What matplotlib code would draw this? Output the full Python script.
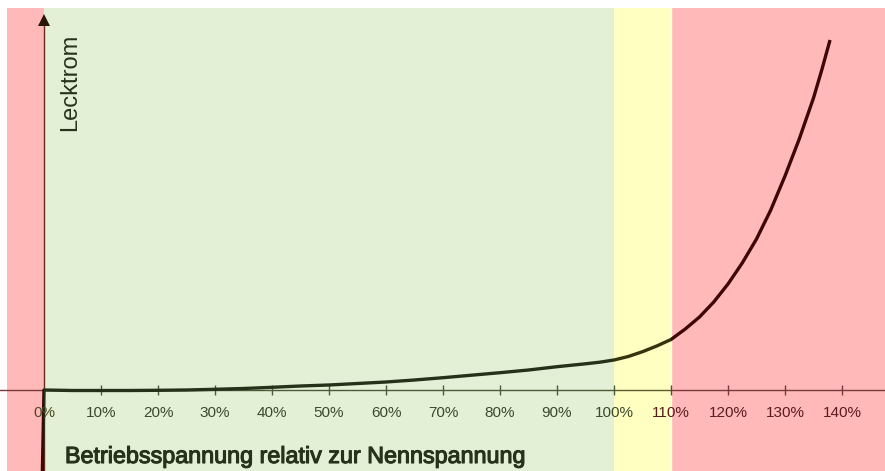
import matplotlib
matplotlib.use("Agg")
import matplotlib.pyplot as plt
import matplotlib.patheffects as pe
from matplotlib.patches import Rectangle

# ---- data ----
voltage_pct = [-0.35, 0, 5, 10, 15, 20, 25, 30, 35, 40, 45, 50, 55, 60, 65, 70,
               75, 80, 85, 90, 95, 97.5, 100, 102.5, 105, 107.5, 110, 112.5,
               115, 117.5, 120, 122.5, 125, 127.5, 130, 132.5, 135, 136.5, 137.9]
leakage = [-100, 0, -0.5, -0.5, -0.5, -0.3, 0, 0.7, 1.5, 2.7, 4, 5, 6.5, 8, 10,
           12.3, 14.8, 17.3, 20, 23.3, 26.2, 27.8, 30, 33.5, 38.3, 44, 50.5, 61,
           73, 88, 106, 127, 151, 180, 214, 251, 292, 321, 350]
tick_values = [0, 10, 20, 30, 40, 50, 60, 70, 80, 90, 100, 110, 120, 130, 140]
tick_labels = [f"{v}%" for v in tick_values]
zones = [(-10, 0, "pink"), (0, 100, "green"), (100, 110, "yellow"), (110, 160, "pink")]

bg = {"pink": "#FFB9B9", "green": "#E3F0D5", "yellow": "#FFFFC1"}
curve_col = {"pink": "#3e0606", "green": "#25321a", "yellow": "#34340e"}
axis_col = {"pink": "#7a3838", "green": "#4a5a3a", "yellow": "#5c5c30"}
text_col = {"pink": "#5a1c1c", "green": "#3a4a2c", "yellow": "#4a4a22"}

W, H = 885, 471
fig = plt.figure(figsize=(W / 100, H / 100), dpi=100)
fig.patch.set_facecolor("white")
ax = fig.add_axes([7 / W, 0, (W - 7) / W, (H - 8) / H])
ax.set_xlim(-37 / 5.7, 841 / 5.7)
ax.set_ylim(-81, 382)
ax.axis("off")

for x0, x1, z in zones:
    ax.axvspan(x0, x1, color=bg[z], lw=0, zorder=0)
ax.axvline(110, color="white", lw=1, zorder=0.5)

# x axis, curve, ticks clipped per zone with zone-tinted colors
for x0, x1, z in zones:
    clip = Rectangle((x0, -200), x1 - x0, 800, transform=ax.transData)
    l1, = ax.plot([-20, 160], [0, 0], color=axis_col[z], lw=1, zorder=2)
    l1.set_clip_path(clip)
    l2, = ax.plot(voltage_pct, leakage, color=curve_col[z], lw=2.4,
                  solid_capstyle="butt", solid_joinstyle="round", zorder=4)
    l2.set_clip_path(clip)

for v, lab in zip(tick_values, tick_labels):
    z = "green" if 0 < v <= 100 else ("yellow" if v < 110 else "pink")
    if v > 0:
        ax.plot([v], [0], marker="|", ms=7, mew=1, color=axis_col[z], zorder=3)
    ax.text(v, -27, lab, ha="center", va="baseline", fontsize=11,
            family="Liberation Sans", color=text_col[z], zorder=5)

# y axis with arrow
ax.plot([0, 0], [-81, 366], color="#6b2a1e", lw=1, zorder=3)
ax.plot([0], [370], marker="^", ms=9, color="#2a1608", mew=0, zorder=3)

ax.text(4.5, 308, "Lecktrom", rotation=90, ha="center", va="center",
        fontsize=17, family="Liberation Sans", color="#26331a", zorder=5)

ax.text(3.68, -73, "Betriebsspannung relativ zur Nennspannung", ha="left",
        va="baseline", fontsize=16.8, family="Liberation Sans",
        color="#26331a", zorder=5,
        path_effects=[pe.withStroke(linewidth=0.8, foreground="#26331a")])

fig.savefig("out.png", dpi=100, facecolor="white")
